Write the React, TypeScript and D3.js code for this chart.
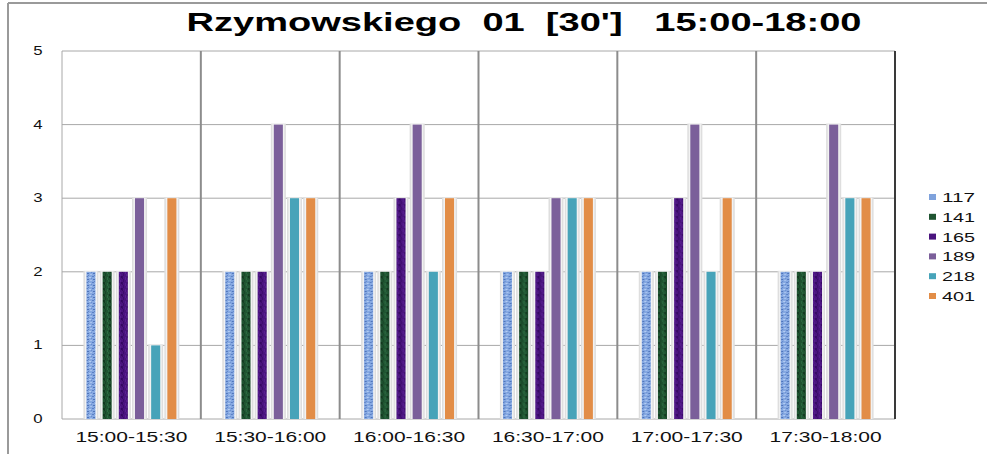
import React, { useRef, useEffect } from 'react';
import * as d3 from 'd3';

// time slots (x categories)
const categories = ['15:00-15:30', '15:30-16:00', '16:00-16:30', '16:30-17:00', '17:00-17:30', '17:30-18:00'];
// series names (legend)
const seriesNames = ['117', '141', '165', '189', '218', '401'];
// values per series, one per time slot
const s117 = [2, 2, 2, 2, 2, 2];
const s141 = [2, 2, 2, 2, 2, 2];
const s165 = [2, 2, 3, 2, 3, 2];
const s189 = [3, 4, 4, 3, 4, 4];
const s218 = [1, 3, 2, 3, 2, 3];
const s401 = [3, 3, 3, 3, 3, 3];
const yTicks = [0, 1, 2, 3, 4, 5];

const title = "Rzymowskiego  01  [30']   15:00-18:00";

const App = () => {
  const svgRef = useRef<SVGSVGElement>(null);

  useEffect(() => {
    const W = 987;
    const H = 454;
    const svg = d3.select(svgRef.current);
    svg.selectAll('*').remove();
    svg.attr('width', W).attr('height', H);

    const seriesValues = [s117, s141, s165, s189, s218, s401];
    const fills = ['url(#p117)', 'url(#p141)', 'url(#p165)', '#7b5f9a', '#47a3b9', '#e28d47'];
    const legendFills = ['#7fa2dc', '#1f5431', '#4a147e', '#7b5f9a', '#47a3b9', '#e28d47'];

    // textured patterns for first three series
    const defs = svg.append('defs');
    const makePattern = (id, base, marks) => {
      const p = defs.append('pattern')
        .attr('id', id)
        .attr('patternUnits', 'userSpaceOnUse')
        .attr('width', 6)
        .attr('height', 6);
      p.append('rect').attr('width', 6).attr('height', 6).attr('fill', base);
      marks.forEach(m => {
        p.append('rect')
          .attr('x', m[0]).attr('y', m[1])
          .attr('width', m[2]).attr('height', m[3])
          .attr('fill', m[4]);
      });
    };
    makePattern('p117', '#86a9e2', [
      [0, 0, 2, 1, '#5a7fc4'], [3, 1, 2, 1, '#b5cdf2'], [1, 3, 2, 1, '#4f74ba'],
      [4, 4, 2, 1, '#a9c3ee'], [2, 5, 1, 1, '#5f84c8'], [5, 2, 1, 1, '#6a8ed0'],
    ]);
    makePattern('p141', '#1f5431', [
      [0, 0, 1, 3, '#143b21'], [3, 1, 1, 3, '#2d6b43'], [1, 3, 1, 3, '#174527'],
      [4, 4, 1, 2, '#2a6540'], [5, 0, 1, 2, '#123620'],
    ]);
    makePattern('p165', '#4a147e', [
      [0, 0, 1, 3, '#380a66'], [3, 1, 1, 3, '#5a1f94'], [1, 3, 1, 3, '#3c0c6c'],
      [4, 4, 1, 2, '#56208e'], [5, 0, 1, 2, '#330861'],
    ]);

    svg.append('rect').attr('width', W).attr('height', H).attr('fill', '#fff');

    // outer frame
    svg.append('line').attr('x1', 8).attr('x2', 8).attr('y1', 3).attr('y2', H)
      .attr('stroke', '#9a9a9a').attr('stroke-width', 2);
    svg.append('line').attr('x1', 8).attr('x2', W).attr('y1', 3).attr('y2', 3)
      .attr('stroke', '#9a9a9a').attr('stroke-width', 2);

    const left = 62;
    const right = 895;
    const top = 51;
    const bottom = 419;

    const x0 = d3.scaleBand().domain(categories).range([left, right]).padding(0);
    const x1 = d3.scaleBand().domain(seriesNames).range([0, x0.bandwidth()])
      .paddingInner(0.44).paddingOuter(1.51);
    const y = d3.scaleLinear().domain([0, 5]).range([bottom, top]);

    // horizontal gridlines
    svg.append('g').selectAll('line')
      .data(yTicks)
      .join('line')
      .attr('x1', left).attr('x2', right)
      .attr('y1', d => y(d)).attr('y2', d => y(d))
      .attr('stroke', '#a8a8a8').attr('stroke-width', 1);

    // left border
    svg.append('line').attr('x1', left).attr('x2', left).attr('y1', top).attr('y2', bottom)
      .attr('stroke', '#a8a8a8').attr('stroke-width', 1);

    // category separators
    svg.append('g').selectAll('line')
      .data(categories.slice(1))
      .join('line')
      .attr('x1', d => x0(d)).attr('x2', d => x0(d))
      .attr('y1', top).attr('y2', bottom)
      .attr('stroke', '#8c8c8c').attr('stroke-width', 2);

    svg.append('line').attr('x1', right).attr('x2', right).attr('y1', top).attr('y2', bottom)
      .attr('stroke', '#3a3a3a').attr('stroke-width', 2);

    // y labels
    svg.append('g').selectAll('text')
      .data(yTicks)
      .join('text')
      .attr('transform', d => `translate(38, ${y(d) + 4}) scale(1.4, 1)`)
      .attr('text-anchor', 'middle')
      .attr('font-family', 'Liberation Sans, Arial, sans-serif')
      .attr('font-size', 12)
      .attr('fill', '#111')
      .text(d => d);

    // bars
    const groups = svg.append('g').selectAll('g')
      .data(categories)
      .join('g')
      .attr('transform', d => `translate(${x0(d)}, 0)`);

    seriesNames.forEach((name, si) => {
      const vals = seriesValues[si];
      const bw = x1.bandwidth();
      // soft shadow behind the bar
      groups.append('rect')
        .attr('x', x1(name) - 3)
        .attr('y', (d, i) => y(vals[i]) - 1)
        .attr('width', bw + 6)
        .attr('height', (d, i) => bottom - y(vals[i]) + 1)
        .attr('fill', '#dedede');
      groups.append('rect')
        .attr('x', x1(name) - 1.5)
        .attr('y', (d, i) => y(vals[i]) - 0.5)
        .attr('width', bw + 3)
        .attr('height', (d, i) => bottom - y(vals[i]) + 0.5)
        .attr('fill', '#f2f2f2');
      groups.append('rect')
        .attr('x', x1(name))
        .attr('y', (d, i) => y(vals[i]))
        .attr('width', bw)
        .attr('height', (d, i) => bottom - y(vals[i]))
        .attr('fill', fills[si]);
    });

    // x labels
    svg.append('g').selectAll('text')
      .data(categories)
      .join('text')
      .attr('x', d => x0(d) + x0.bandwidth() / 2)
      .attr('y', 442)
      .attr('text-anchor', 'middle')
      .attr('font-family', 'Liberation Sans, Arial, sans-serif')
      .attr('font-size', 14)
      .attr('textLength', 112)
      .attr('lengthAdjust', 'spacingAndGlyphs')
      .attr('fill', '#111')
      .text(d => d);

    // title
    svg.append('text')
      .attr('x', 524)
      .attr('y', 31)
      .attr('text-anchor', 'middle')
      .attr('font-family', 'Liberation Sans, Arial, sans-serif')
      .attr('font-weight', 'bold')
      .attr('font-size', 25)
      .attr('textLength', 675)
      .attr('lengthAdjust', 'spacingAndGlyphs')
      .style('white-space', 'pre')
      .attr('fill', '#000')
      .text(title);

    // legend
    const legend = svg.append('g').selectAll('g')
      .data(seriesNames)
      .join('g')
      .attr('transform', (d, i) => `translate(929, ${197 + i * 19.8})`);
    legend.append('rect')
      .attr('x', 0).attr('y', -3)
      .attr('width', 7).attr('height', 6)
      .attr('fill', (d, i) => legendFills[i]);
    legend.append('text')
      .attr('x', 13).attr('y', 5)
      .attr('font-family', 'Liberation Sans, Arial, sans-serif')
      .attr('font-size', 12)
      .attr('textLength', 33)
      .attr('lengthAdjust', 'spacingAndGlyphs')
      .attr('fill', '#111')
      .text(d => d);
  }, []);

  return (
    <div style={{ position: 'absolute', left: 0, top: 0 }}>
      <svg ref={svgRef} style={{ display: 'block' }}></svg>
    </div>
  );
};

export default App;
